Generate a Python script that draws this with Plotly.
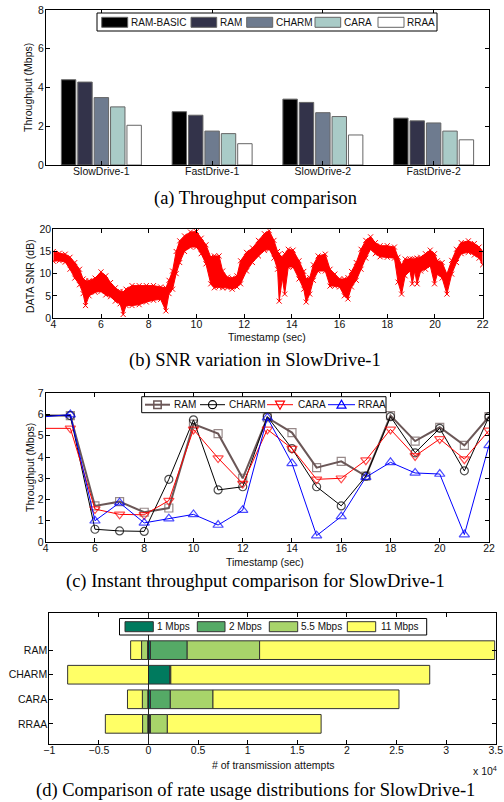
import plotly.graph_objects as go

W, H = 504, 802

# ---------------- (a) Throughput comparison ----------------
scenarios = ["SlowDrive-1", "FastDrive-1", "SlowDrive-2", "FastDrive-2"]
schemes_a = ["RAM-BASIC", "RAM", "CHARM", "CARA", "RRAA"]
tput_ram_basic = [4.40, 2.75, 3.40, 2.42]
tput_ram = [4.28, 2.57, 3.23, 2.28]
tput_charm = [3.48, 1.75, 2.70, 2.17]
tput_cara = [3.00, 1.62, 2.50, 1.75]
tput_rraa = [2.05, 1.10, 1.55, 1.30]
colors_a = ["#000000", "#33334a", "#6e7b8f", "#a9cbc7", "#ffffff"]

# ---------------- (b) SNR variation (upper / lower envelope of the trace) ----------------
snr_t = [4.0, 4.25, 4.5, 4.7, 4.9, 5.1, 5.25, 5.35, 5.5, 5.75, 6.0, 6.2, 6.4, 6.6, 6.8,
         6.93, 7.05, 7.3, 7.6, 7.9, 8.2, 8.5, 8.72, 8.85, 9.0, 9.15, 9.3, 9.5, 9.75, 10.0,
         10.2, 10.4, 10.6, 10.75, 10.95, 11.1, 11.3, 11.5, 11.7, 11.85, 12.1, 12.35, 12.6,
         12.85, 13.05, 13.25, 13.4, 13.47, 13.6, 13.7, 13.85, 14.05, 14.3, 14.5, 14.6, 14.75,
         14.9, 15.1, 15.4, 15.6, 15.8, 16.0, 16.2, 16.35, 16.5, 16.7, 16.9, 17.1, 17.3, 17.5,
         17.7, 18.0, 18.3, 18.45, 18.6, 18.75, 18.95, 19.05, 19.15, 19.25, 19.4, 19.6, 19.8,
         19.98, 20.1, 20.3, 20.5, 20.7, 20.9, 21.1, 21.4, 21.65, 21.85, 22.0]
snr_hi = [15.0, 14.6, 14.4, 13.7, 12.5, 11.0, 8.8, 8.4, 8.4, 9.0, 10.4, 9.5, 8.0, 6.8, 6.0,
          5.9, 6.5, 7.3, 7.3, 7.3, 7.3, 7.0, 6.8, 8.5, 10.6, 15.0, 17.4, 18.5, 19.4, 19.5,
          18.0, 16.5, 13.7, 14.0, 14.0, 10.6, 9.2, 9.0, 9.5, 12.9, 14.8, 15.8, 17.5,
          19.0, 19.7, 17.5, 15.0, 14.4, 13.7, 14.5, 15.5, 15.3, 12.9, 10.5, 8.8, 9.1,
          12.0, 14.0, 14.4, 11.0, 9.9, 8.8, 8.8, 9.1, 10.5, 12.5, 15.5, 17.5, 18.3, 17.0,
          16.3, 16.3, 16.0, 13.7, 12.0, 13.3, 13.3, 13.3, 13.3, 13.5, 13.7, 14.5, 15.3,
          14.5, 12.9, 12.5, 9.9, 13.0, 15.5, 17.0, 17.4, 16.8, 16.0, 15.0]
snr_lo = [12.8, 12.9, 12.6, 11.0, 9.0, 7.5, 5.5, 2.8, 5.0, 5.8, 6.0, 5.2, 4.8, 3.8, 3.2,
          0.8, 2.8, 2.8, 3.0, 3.6, 4.0, 4.2, 1.6, 5.5, 6.5, 10.0, 12.5, 15.0, 16.0, 16.0,
          14.5, 12.2, 7.7, 6.8, 7.0, 6.8, 6.8, 6.5, 7.0, 7.7, 10.6, 12.5, 14.0,
          15.2, 15.5, 13.5, 11.0, 3.8, 9.0, 5.4, 11.5, 11.5, 8.8, 6.5, 3.6, 5.4,
          8.5, 10.6, 10.6, 7.2, 7.2, 7.0, 5.0, 4.3, 7.0, 8.5, 11.0, 13.5, 15.5, 14.5,
          13.8, 13.7, 13.5, 8.1, 5.4, 9.5, 10.6, 7.7, 10.6, 7.7, 10.6, 11.0, 11.8,
          7.7, 9.9, 9.0, 5.4, 9.9, 12.5, 14.5, 14.8, 14.2, 13.5, 12.0]

# ---------------- (c) Instant throughput ----------------
seconds = list(range(4, 23))
inst_ram = [5.95, 5.95, 1.70, 1.90, 1.40, 1.60, 5.55, 5.10, 3.00, 5.85, 5.15, 3.50, 3.80,
            3.10, 5.95, 4.75, 5.40, 4.55, 5.90]
inst_charm = [5.95, 5.95, 0.60, 0.52, 0.50, 2.95, 5.75, 2.45, 2.60, 5.90, 4.40, 2.60, 1.70,
              3.10, 5.90, 4.20, 5.35, 3.35, 5.90]
inst_cara = [5.35, 5.35, 1.55, 1.30, 1.28, 1.95, 5.30, 3.95, 2.75, 5.30, 4.40, 2.95, 3.00,
             3.85, 5.30, 4.05, 4.85, 3.90, 5.25]
inst_rraa = [5.90, 6.00, 1.00, 1.85, 0.90, 1.10, 1.30, 0.80, 1.50, 5.85, 3.70, 0.30, 1.20,
             3.05, 3.75, 3.25, 3.20, 0.35, 4.55]
schemes_c = ["RAM", "CHARM", "CARA", "RRAA"]

# ---------------- (d) Rate usage (x 10^4 transmission attempts) ----------------
schemes_d = ["RAM", "CHARM", "CARA", "RRAA"]
rate_labels = ["1 Mbps", "2 Mbps", "5.5 Mbps", "11 Mbps"]
succ_1 = [0.020, 0.215, 0.020, 0.010]
succ_2 = [0.370, 0.005, 0.200, 0.010]
succ_55 = [0.730, 0.005, 0.430, 0.170]
succ_11 = [2.370, 2.610, 1.875, 1.550]
fail_1 = [0.003, 0.000, 0.002, 0.002]
fail_2 = [0.007, 0.000, 0.005, 0.005]
fail_55 = [0.060, 0.000, 0.055, 0.053]
fail_11 = [0.110, 0.815, 0.150, 0.375]
colors_d = ["#007a5e", "#55aa66", "#a8d46a", "#ffff66"]

# ---------------- helpers ----------------
FONT = "Liberation Sans, Arial, sans-serif"
SERIF = "Liberation Serif, Times New Roman, serif"
TXT = "#111111"
FS = 10.5
LFS = 10.0


def px_x(p):
    return p / W


def px_y(p):
    return 1 - p / H


fig = go.Figure()

# (a) grouped bars
for name, vals, col in zip(schemes_a,
                           [tput_ram_basic, tput_ram, tput_charm, tput_cara, tput_rraa],
                           colors_a):
    fig.add_trace(go.Bar(x=scenarios, y=vals, name=name, marker_color=col,
                         marker_line=dict(color="#666666", width=1),
                         xaxis="x", yaxis="y", showlegend=False))

# (b) SNR band
fig.add_trace(go.Scatter(x=snr_t, y=snr_hi, mode="lines+markers",
                         line=dict(color="#ff0000", width=1),
                         marker=dict(symbol="x-thin-open", size=5,
                                     line=dict(color="#ff0000", width=1)),
                         showlegend=False, xaxis="x2", yaxis="y2"))
fig.add_trace(go.Scatter(x=snr_t, y=snr_lo, mode="lines+markers", fill="tonexty",
                         fillcolor="#ff0000",
                         line=dict(color="#ff0000", width=1),
                         marker=dict(symbol="x-thin-open", size=5,
                                     line=dict(color="#ff0000", width=1)),
                         showlegend=False, xaxis="x2", yaxis="y2"))

# (c) instant throughput lines (the marker at the clipped left edge is not drawn)
colors_c = ["#6b5757", "#000000", "#ff0000", "#0000ff"]
widths_c = [2, 1, 1, 1]
symbols_c = ["square-open", "circle-open", "triangle-down-open", "triangle-up-open"]
sizes_c = [8, 8, 9, 9]
for name, vals, col, lw, sym, ms in zip(schemes_c,
                                        [inst_ram, inst_charm, inst_cara, inst_rraa],
                                        colors_c, widths_c, symbols_c, sizes_c):
    msizes = [0] + [ms] * (len(vals) - 1)
    fig.add_trace(go.Scatter(x=seconds, y=vals, name=name, mode="lines+markers",
                             line=dict(color=col, width=lw),
                             marker=dict(symbol=sym, size=msizes,
                                         line=dict(color=col, width=1.2)),
                             xaxis="x3", yaxis="y3", showlegend=False))

# (d) stacked horizontal bars (successes to the right, failures to the left)
succ = [succ_1, succ_2, succ_55, succ_11]
fail = [fail_1, fail_2, fail_55, fail_11]
cum_pos = [0.0] * len(schemes_d)
cum_neg = [0.0] * len(schemes_d)
for lbl, col, sv, fv in zip(rate_labels, colors_d, succ, fail):
    fig.add_trace(go.Bar(y=schemes_d, x=sv, base=list(cum_pos), orientation="h",
                         name=lbl, marker_color=col,
                         marker_line=dict(color="#333333", width=1),
                         width=0.76, offsetgroup="d", showlegend=False,
                         xaxis="x4", yaxis="y4"))
    fig.add_trace(go.Bar(y=schemes_d, x=[-v for v in fv], base=[-c for c in cum_neg],
                         orientation="h", name=lbl, marker_color=col,
                         marker_line=dict(color="#333333", width=1),
                         width=0.76, offsetgroup="d", showlegend=False,
                         xaxis="x4", yaxis="y4"))
    cum_pos = [c + v for c, v in zip(cum_pos, sv)]
    cum_neg = [c + v for c, v in zip(cum_neg, fv)]

axis_common = dict(showline=True, linecolor="black", linewidth=1, mirror="ticks",
                   ticks="inside", ticklen=4, tickcolor="black", tickwidth=1,
                   showgrid=False, zeroline=False, automargin=False,
                   tickfont=dict(family=FONT, size=FS, color=TXT))
xax = dict(ticklabelstandoff=-4, **axis_common)
yax = dict(ticklabelstandoff=-1, **axis_common)

fig.update_layout(
    template="none",
    width=W, height=H, autosize=False,
    margin=dict(l=0, r=0, t=0, b=0, pad=0),
    paper_bgcolor="white", plot_bgcolor="white",
    showlegend=False,
    barmode="group", bargap=0.26, bargroupgap=0.12,
    xaxis=dict(domain=[px_x(46), px_x(489)], anchor="y", **xax),
    yaxis=dict(domain=[px_y(165), px_y(10)], anchor="x", range=[0, 8], dtick=2, **yax),
    xaxis2=dict(domain=[px_x(53.3), px_x(482.7)], anchor="y2", range=[4, 22], dtick=2,
                **xax),
    yaxis2=dict(domain=[px_y(318), px_y(229.3)], anchor="x2", range=[0, 20], dtick=5,
                **yax),
    xaxis3=dict(domain=[px_x(45.7), px_x(489)], anchor="y3", range=[4, 22], dtick=2,
                **xax),
    yaxis3=dict(domain=[px_y(542), px_y(393.3)], anchor="x3", range=[0, 7], dtick=1,
                **yax),
    xaxis4=dict(domain=[px_x(49.3), px_x(495.7)], anchor="y4", range=[-1, 3.5],
                dtick=0.5, **xax),
    yaxis4=dict(domain=[px_y(744), px_y(613.3)], anchor="x4", range=[3.82, -1.5],
                type="category", categoryorder="array", categoryarray=schemes_d,
                **yax),
)

# zero reference line for (d), drawn above the bars
fig.add_shape(type="line", xref="x4", yref="y4 domain", x0=0, x1=0, y0=0, y1=1,
              line=dict(color="#222222", width=1), layer="above")


# ---------------- hand-drawn legends (MATLAB style) ----------------
def rect_px(x0, y0, x1, y1, fill, edge, width=1):
    fig.add_shape(type="rect", xref="paper", yref="paper",
                  x0=px_x(x0), x1=px_x(x1), y0=px_y(y1), y1=px_y(y0),
                  fillcolor=fill, line=dict(color=edge, width=width), layer="above")


def text_px(x, y, txt):
    fig.add_annotation(xref="paper", yref="paper", x=px_x(x - 1.5), y=px_y(y), text=txt,
                       xanchor="left", yanchor="middle", showarrow=False,
                       font=dict(family=FONT, size=LFS, color=TXT))


# legend (a)
rect_px(97, 13, 437, 31, "white", "black")
swatch_a = [(101.7, 127.7), (191, 216.7), (246.7, 272.7), (315, 340.7), (378, 404)]
text_a = [130, 219, 275, 343.3, 406]
for name, col, (s0, s1), tx in zip(schemes_a, colors_a, swatch_a, text_a):
    rect_px(s0, 17.3, s1, 27.3, col, "#666666")
    text_px(tx, 22.2, name)

# legend (c)
rect_px(141.7, 396.7, 386, 412.7, "white", "black")
ly = 404.7
lines_c = [(145, 170), (200, 225), (267, 293), (328, 355)]
text_c = [173, 228, 297, 357]
for name, col, lw, sym, (l0, l1), tx in zip(schemes_c, colors_c, widths_c, symbols_c,
                                            lines_c, text_c):
    fig.add_shape(type="line", xref="paper", yref="paper", x0=px_x(l0), x1=px_x(l1),
                  y0=px_y(ly), y1=px_y(ly), line=dict(color=col, width=lw),
                  layer="above")
    cx = (l0 + l1) / 2
    if sym == "square-open":
        rect_px(cx - 3.7, ly - 3.7, cx + 3.7, ly + 3.7, "rgba(0,0,0,0)", col, 1.5)
    elif sym == "circle-open":
        fig.add_shape(type="circle", xref="paper", yref="paper",
                      x0=px_x(cx - 4), x1=px_x(cx + 4), y0=px_y(ly + 4), y1=px_y(ly - 4),
                      line=dict(color=col, width=1.2), layer="above")
    else:
        d = 1 if sym == "triangle-down-open" else -1
        pts = [(cx - 4.5, ly - 3.5 * d), (cx + 4.5, ly - 3.5 * d), (cx, ly + 4.5 * d)]
        path = "M " + " L ".join(f"{px_x(a):.5f},{px_y(b):.5f}" for a, b in pts) + " Z"
        fig.add_shape(type="path", xref="paper", yref="paper", path=path,
                      line=dict(color=col, width=1.2), layer="above")
    text_px(tx, ly, name)

# legend (d)
rect_px(119.5, 618.5, 426.7, 635, "white", "black")
swatch_d = [(125, 153.3), (197.3, 225), (269.3, 297.7), (347.3, 375.7)]
text_d = [156.7, 228.3, 300, 380]
for name, col, (s0, s1), tx in zip(rate_labels, colors_d, swatch_d, text_d):
    rect_px(s0, 621.7, s1, 631.7, col, "#333333")
    text_px(tx, 626.7, name)

# ---------------- axis titles and captions ----------------
annotations = [
    dict(text="Throughput (Mbps)", x=px_x(28), y=px_y(88), textangle=-90),
    dict(text="DATA SNR (dB)", x=px_x(30), y=px_y(276), textangle=-90),
    dict(text="Timestamp (sec)", x=px_x(267), y=px_y(337)),
    dict(text="Throughput (Mbps)", x=px_x(30), y=px_y(468), textangle=-90),
    dict(text="Timestamp (sec)", x=px_x(265), y=px_y(562)),
    dict(text="# of transmission attempts", x=px_x(273), y=px_y(765)),
    dict(text="x 10<sup>4</sup>", x=px_x(499), y=px_y(770), xanchor="right"),
]
for a in annotations:
    a.setdefault("xanchor", "center")
    fig.add_annotation(xref="paper", yref="paper", yanchor="middle", showarrow=False,
                       font=dict(family=FONT, size=FS, color=TXT), **a)

captions = [
    ("(a) Throughput comparison", 198),
    ("(b) SNR variation in SlowDrive-1", 360),
    ("(c) Instant throughput comparison for SlowDrive-1", 581),
    ("(d) Comparison of rate usage distributions for SlowDrive-1", 790),
]
for txt, yp in captions:
    fig.add_annotation(xref="paper", yref="paper", x=px_x(255), y=px_y(yp),
                       xanchor="center", yanchor="middle", showarrow=False, text=txt,
                       font=dict(family=SERIF, size=18.5, color="#000000"))

fig.write_html("out.html",
               config={"displayModeBar": False},
               post_script="document.body.style.margin='0px';"
                           "document.body.style.overflow='hidden';")
